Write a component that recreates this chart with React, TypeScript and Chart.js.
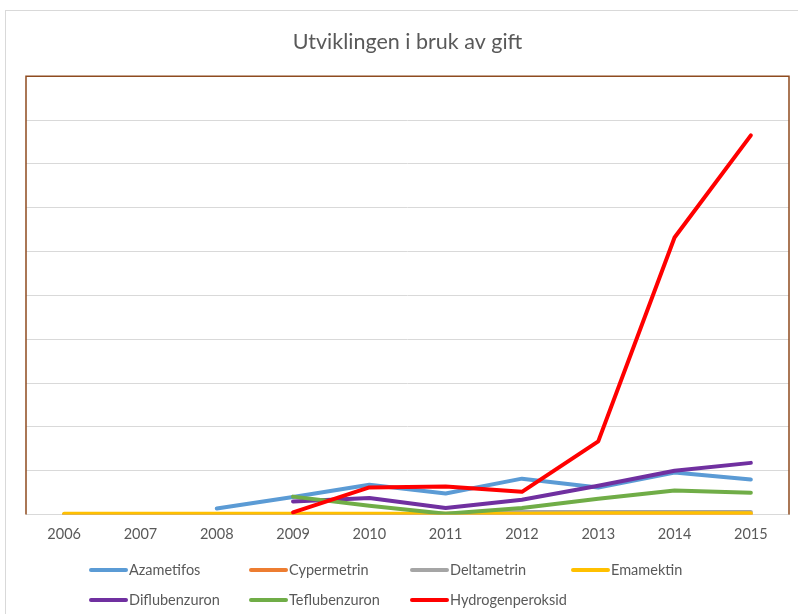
import React, { useEffect, useRef } from "react";
import { Chart, registerables } from "chart.js";

Chart.register(...registerables);

const years = ["2006", "2007", "2008", "2009", "2010", "2011", "2012", "2013", "2014", "2015"];

const azametifos = [null, null, 0.14, 0.4, 0.68, 0.48, 0.82, 0.62, 0.96, 0.8];
const cypermetrin = [0, 0, 0, 0, 0, 0, 0, 0, 0, 0];
const deltametrin = [0, 0, 0, 0, 0, 0.02, 0.06, 0.06, 0.06, 0.06];
const emamektin = [0.02, 0.02, 0.02, 0.02, 0.02, 0.02, 0.02, 0.03, 0.03, 0.03];
const diflubenzuron = [null, null, null, 0.3, 0.38, 0.15, 0.34, 0.66, 1.0, 1.18];
const teflubenzuron = [null, null, null, 0.41, 0.2, 0.02, 0.15, 0.36, 0.55, 0.5];
const hydrogenperoksid = [null, null, null, 0.05, 0.62, 0.64, 0.52, 1.67, 6.32, 8.65];

const seriesNames = ["Azametifos", "Cypermetrin", "Deltametrin", "Emamektin", "Diflubenzuron", "Teflubenzuron", "Hydrogenperoksid"];
const seriesData = [azametifos, cypermetrin, deltametrin, emamektin, diflubenzuron, teflubenzuron, hydrogenperoksid];
const seriesColors = ["#5b9bd5", "#ed7d31", "#a5a5a5", "#ffc000", "#7030a0", "#70ad47", "#ff0000"];

const FONT = "Lato, 'Open Sans', sans-serif";
const TEXT = "#595959";

const framePlugin = {
  id: "frame",
  afterDatasetsDraw(chart: any) {
    const { ctx, chartArea } = chart;
    ctx.save();
    ctx.strokeStyle = "#8e4b1f";
    ctx.lineWidth = 1.5;
    ctx.beginPath();
    ctx.moveTo(chartArea.left, chartArea.bottom);
    ctx.lineTo(chartArea.left, chartArea.top);
    ctx.lineTo(chartArea.right, chartArea.top);
    ctx.lineTo(chartArea.right, chartArea.bottom);
    ctx.stroke();
    ctx.restore();
  },
};

const legendPlugin = {
  id: "gridLegend",
  afterDraw(chart: any) {
    const { ctx } = chart;
    const colX = [91, 251, 412, 573];
    const rowY = [570, 600];
    ctx.save();
    ctx.font = `14.5px ${FONT}`;
    ctx.textBaseline = "middle";
    ctx.fillStyle = TEXT;
    chart.data.datasets.forEach((ds: any, i: number) => {
      const x = colX[i % 4];
      const y = rowY[Math.floor(i / 4)];
      ctx.strokeStyle = ds.borderColor;
      ctx.lineWidth = 4;
      ctx.lineCap = "round";
      ctx.beginPath();
      ctx.moveTo(x, y);
      ctx.lineTo(x + 35, y);
      ctx.stroke();
      ctx.fillText(ds.label, x + 38, y);
    });
    ctx.restore();
  },
};

export default function App() {
  const ref = useRef<HTMLCanvasElement | null>(null);
  useEffect(() => {
    if (!ref.current) return;
    const n = seriesNames.length;
    const chart = new Chart(ref.current, {
      type: "line",
      data: {
        labels: years,
        datasets: seriesNames.map((name, i) => ({
          label: name,
          data: seriesData[i],
          borderColor: seriesColors[i],
          backgroundColor: seriesColors[i],
          borderWidth: 4,
          pointRadius: 0,
          borderCapStyle: "round",
          borderJoinStyle: "round",
          tension: 0,
          spanGaps: false,
          order: n - 1 - i,
        })),
      },
      options: {
        animation: false,
        responsive: false,
        maintainAspectRatio: false,
        layout: { padding: { left: 26, right: 9, top: 0, bottom: 60 } },
        plugins: {
          legend: { display: false },
          tooltip: { enabled: false },
          title: {
            display: true,
            text: "Utviklingen i bruk av gift",
            color: TEXT,
            font: { family: FONT, size: 21.5, weight: "normal" },
            padding: { top: 29, bottom: 21.4 },
          },
        },
        scales: {
          x: {
            offset: true,
            grid: { display: false, drawTicks: false },
            border: { display: true, color: "#d9d9d9", width: 1 },
            ticks: { color: TEXT, font: { family: FONT, size: 14.5 }, padding: 11, maxRotation: 0 },
          },
          y: {
            min: 0,
            max: 10,
            grid: { color: "#d9d9d9", lineWidth: 1, drawTicks: false },
            border: { display: false },
            ticks: { display: false, stepSize: 1 },
          },
        },
      },
      plugins: [framePlugin, legendPlugin],
    });
    return () => chart.destroy();
  }, []);

  return (
    <div style={{ position: "fixed", left: 0, top: 0, width: 798, height: 614, overflow: "hidden", background: "#fff" }}>
      <div
        style={{
          position: "absolute",
          left: 5,
          top: 10,
          width: 900,
          height: 700,
          borderLeft: "1px solid #d9d9d9",
          borderTop: "1px solid #d9d9d9",
        }}
      />
      <canvas ref={ref} width={798} height={614} style={{ position: "absolute", left: 0, top: 0 }} />
    </div>
  );
}
